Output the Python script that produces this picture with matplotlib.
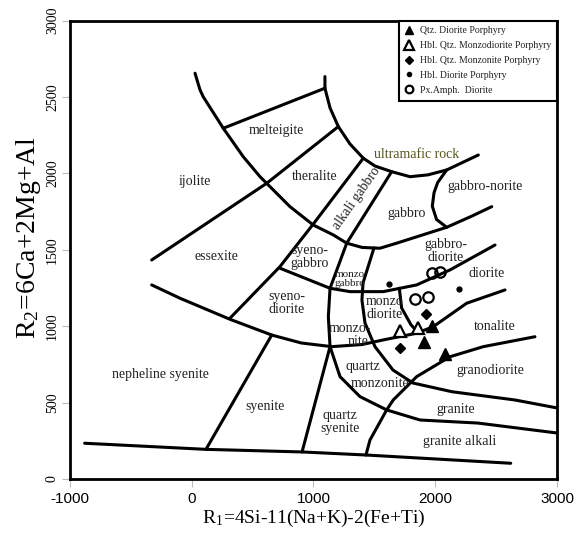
import matplotlib
matplotlib.use("Agg")
import matplotlib.pyplot as plt
from matplotlib.lines import Line2D

plt.rcParams['font.family'] = ['Liberation Serif', 'DejaVu Serif']
plt.rcParams['mathtext.fontset'] = 'stix'
plt.rcParams['axes.unicode_minus'] = False

# field boundaries of the R1-R2 diagram, (R1, R2) pairs
base_line = [(-880, 234), (117, 194), (906, 177), (1431, 157), (2620, 103)]
ijolite_arc = [(27, 2655), (68, 2546), (95, 2500), (259, 2295), (423, 2109), (561, 1978),
               (807, 1782), (998, 1662), (1163, 1597), (1273, 1543), (1400, 1515),
               (1546, 1510), (1683, 1543), (2094, 1647), (2300, 1720), (2464, 1782)]
melteigite_top = [(259, 2295), (1094, 2557), (1094, 2633)]
ultramafic_arc = [(1094, 2557), (1136, 2428), (1204, 2306), (1300, 2192), (1409, 2099),
                  (1505, 2048), (1642, 2011), (1793, 1978), (1940, 1990), (2094, 2022),
                  (2354, 2120)]
norite_curve = [(2094, 2022), (2020, 1940), (1990, 1873), (1976, 1785), (2011, 1698),
                (2094, 1647)]
ijolite_essexite = [(-329, 1433), (616, 1935), (1204, 2306)]
nepheline_curve = [(-329, 1270), (-97, 1183), (314, 1045), (657, 942), (900, 890),
                   (1150, 866), (1400, 880), (1573, 910), (1848, 954), (1984, 997),
                   (2258, 1150), (2573, 1237)]
diorite_line = [(2491, 1531), (2121, 1368), (1848, 1270), (1573, 1226), (1300, 1226),
                (1136, 1248), (725, 1379)]
syeno_line = [(314, 1052), (725, 1390), (1000, 1670), (1409, 2099)]
monzo_line = [(1642, 2011), (1273, 1543), (1136, 1248), (1122, 1062), (1136, 866)]
syenite_line = [(657, 942), (117, 194)]
qz_syenite_line = [(1136, 866), (906, 177)]
granodiorite_line = [(2819, 931), (2395, 866), (2121, 800), (1848, 670), (1655, 517),
                     (1601, 452), (1464, 255), (1431, 157)]
qz_monzonite_upper = [(1497, 1512), (1407, 1283), (1398, 1171), (1423, 1021), (1505, 866),
                      (1653, 713), (1817, 628), (2138, 571), (2655, 517), (3000, 465)]
monzodiorite_line = [(1705, 1248), (1724, 1119), (1800, 1010), (1862, 956)]
qz_monzonite_lower = [(1136, 866), (1218, 670), (1382, 539), (1601, 452), (1875, 386),
                      (2351, 366), (3000, 301)]

boundaries = [base_line, ijolite_arc, melteigite_top, ultramafic_arc, norite_curve,
              ijolite_essexite, nepheline_curve, diorite_line, syeno_line, monzo_line,
              syenite_line, qz_syenite_line, granodiorite_line, qz_monzonite_upper,
              monzodiorite_line, qz_monzonite_lower]

# samples
qtz_diorite_r1 = [1971, 1908, 2080]
qtz_diorite_r2 = [1001, 899, 818]
qtz_monzodiorite_r1 = [1710, 1861]
qtz_monzodiorite_r2 = [969, 986]
qtz_monzonite_r1 = [1924, 1710]
qtz_monzonite_r2 = [1078, 855]
hbl_diorite_r1 = [1623, 2198]
hbl_diorite_r2 = [1276, 1241]
px_diorite_r1 = [1971, 2039, 1834, 1938]
px_diorite_r2 = [1350, 1357, 1178, 1193]

# field names
field_names = ['melteigite', 'ijolite', 'theralite', 'gabbro-norite', 'gabbro', 'essexite',
               'syeno-\ngabbro', 'gabbro-\ndiorite', 'diorite', 'syeno-\ndiorite', 'monzo\ndiorite',
               'monzo-', 'nite', 'tonalite', 'nepheline syenite', 'quartz', 'monzonite',
               'granodiorite', 'syenite', 'quartz\nsyenite', 'granite', 'granite alkali']
field_r1 = [698, 27, 1012, 2409, 1766, 205, 971, 2088, 2423, 780, 1587,
            1300, 1366, 2491, -261, 1407, 1546, 2450, 602, 1218, 2170, 2200]
field_r2 = [2280, 1946, 1978, 1913, 1739, 1455, 1453, 1492, 1346, 1152, 1119,
            986, 899, 1001, 681, 733, 628, 713, 473, 373, 452, 244]

fig = plt.figure(figsize=(5.77, 5.41), dpi=100)
ax = fig.add_axes([0.1213, 0.1146, 0.844, 0.8475])

for b in boundaries:
    xs = [p[0] for p in b]
    ys = [p[1] for p in b]
    ax.plot(xs, ys, color='black', lw=2.2, solid_joinstyle='round', solid_capstyle='round')

for name, x, y in zip(field_names, field_r1, field_r2):
    ax.text(x, y, name, ha='center', va='center', fontsize=10, color='#222222', linespacing=1.0)

ax.text(1300, 1309, 'monzo\ngabbro', ha='center', va='center', fontsize=8,
        color='#222222', linespacing=0.9)
ax.text(1355, 1837, 'alkali gabbro', ha='center', va='center', fontsize=10,
        color='#222222', rotation=55)
ax.text(1848, 2125, 'ultramafic rock', ha='center', va='center', fontsize=10, color='#55551f')

ax.plot(qtz_diorite_r1, qtz_diorite_r2, '^', color='black', ms=9, ls='none')
ax.plot(qtz_monzodiorite_r1, qtz_monzodiorite_r2, '^', mfc='white', mec='black', mew=1.6,
        ms=9, ls='none')
ax.plot(qtz_monzonite_r1, qtz_monzonite_r2, 'D', color='black', ms=5.5, ls='none')
ax.plot(hbl_diorite_r1, hbl_diorite_r2, 'o', color='black', ms=3.5, ls='none')
ax.plot(px_diorite_r1, px_diorite_r2, 'o', mfc='none', mec='black', mew=1.6, ms=7.5, ls='none')

handles = [
    Line2D([], [], marker='^', color='black', ls='none', ms=6),
    Line2D([], [], marker='^', mfc='white', mec='black', mew=1.6, ls='none', ms=6.5),
    Line2D([], [], marker='D', color='black', ls='none', ms=4),
    Line2D([], [], marker='o', color='black', ls='none', ms=3),
    Line2D([], [], marker='o', mfc='none', mec='black', mew=1.6, ls='none', ms=5.5),
]
labels = ['Qtz. Diorite Porphyry', 'Hbl. Qtz. Monzodiorite Porphyry',
          'Hbl. Qtz. Monzonite Porphyry', 'Hbl. Diorite Porphyry', 'Px.Amph.  Diorite']
leg = ax.legend(handles, labels, loc='upper right', borderaxespad=0, fontsize=7,
                frameon=True, fancybox=False, edgecolor='black', framealpha=1,
                handlelength=1.0, handletextpad=0.6, labelspacing=0.6,
                borderpad=0.6)
leg.get_frame().set_linewidth(1.5)
for t in leg.get_texts():
    t.set_color('#222222')

ax.set_xlim(-1000, 3000)
ax.set_ylim(0, 3000)
ax.set_xticks([-1000, 0, 1000, 2000, 3000])
ax.set_yticks([0, 500, 1000, 1500, 2000, 2500, 3000])
ax.tick_params(axis='both', length=6, width=0.8, color='#bbbbbb', direction='out')
ax.tick_params(axis='x', pad=3, labelsize=11)
ax.tick_params(axis='y', pad=2, labelsize=10)
for lab in ax.get_xticklabels():
    lab.set_family(['Liberation Sans', 'DejaVu Sans'])
for lab in ax.get_yticklabels():
    lab.set_rotation(90)
    lab.set_va('center')
for s in ax.spines.values():
    s.set_linewidth(2.0)

ax.set_xlabel(r'R$_\mathregular{1}$=4Si-11(Na+K)-2(Fe+Ti)', fontsize=14, labelpad=2)
ax.set_ylabel(r'R$_\mathregular{2}$=6Ca+2Mg+Al', fontsize=20)
ax.yaxis.set_label_coords(-0.055, 0.527)

fig.savefig('out.png', dpi=100, facecolor='white')
